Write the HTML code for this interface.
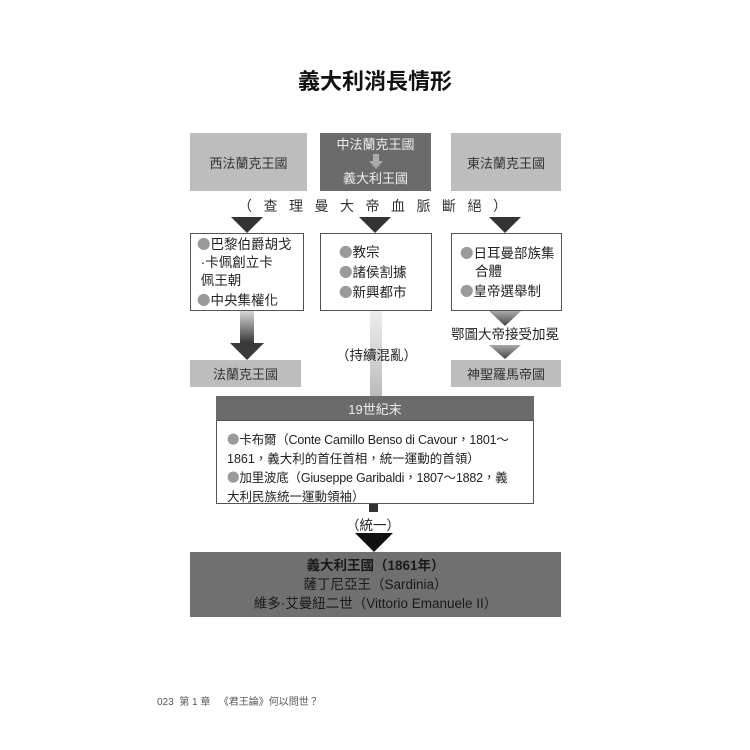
<!DOCTYPE html>
<html><head><meta charset="utf-8"><style>
body{margin:0;width:750px;height:750px;background:#fff;position:relative;overflow:hidden;font-family:"Liberation Sans","Noto Sans CJK TC",sans-serif;color:#222}
.a{position:absolute}
.box{position:absolute;display:flex;align-items:center;justify-content:center;text-align:center;font-size:13px}
.g{background:#bdbdbd;color:#333}
.d{background:#6b6b6b;color:#eee}
.w{background:#fff;border:1px solid #555;box-sizing:border-box;font-size:13.5px;line-height:18px;color:#222}
.dot{color:#9a9a9a;font-family:"Noto Sans CJK TC",sans-serif}
.ln{white-space:nowrap}
</style></head><body>
<div class="a" style="left:0;width:750px;top:64px;text-align:center;font-size:22px;font-weight:bold;color:#111">義大利消長情形</div>

<div class="box g" style="left:190px;top:133px;width:117px;height:58px">西法蘭克王國</div>
<div class="box d" style="left:320px;top:133px;width:111px;height:58px;flex-direction:column;line-height:18px">
<div>中法蘭克王國</div>
<svg width="16" height="16" viewBox="0 0 16 16"><rect x="5" y="0" width="6" height="7" fill="#aaa"/><polygon points="1,7 15,7 8,15" fill="#aaa"/></svg>
<div>義大利王國</div></div>
<div class="box g" style="left:451px;top:133px;width:110px;height:58px">東法蘭克王國</div>

<div class="a" style="left:238px;top:196px;font-size:14px;letter-spacing:11.5px;color:#333;white-space:nowrap">（查理曼大帝血脈斷絕）</div>

<svg class="a" style="left:0;top:0" width="750" height="750">
<defs>
<linearGradient id="gl" x1="0" y1="0" x2="0" y2="1"><stop offset="0" stop-color="#ddd"/><stop offset="1" stop-color="#333"/></linearGradient>
<linearGradient id="gm" x1="0" y1="0" x2="0" y2="1"><stop offset="0" stop-color="#eee"/><stop offset="1" stop-color="#bbb"/></linearGradient>
<linearGradient id="gr" x1="0" y1="0" x2="0" y2="1"><stop offset="0" stop-color="#aaa"/><stop offset="1" stop-color="#444"/></linearGradient>
</defs>
<polygon points="231,217 263,217 247,233" fill="#333"/>
<polygon points="359,217 391,217 375,233" fill="#333"/>
<polygon points="489,217 521,217 505,233" fill="#333"/>
<rect x="240" y="310" width="14" height="34" fill="url(#gl)"/>
<polygon points="230,343 264,343 247,360" fill="#3a3a3a"/>
<rect x="370" y="310" width="12" height="86" fill="url(#gm)"/>
<polygon points="489,311 521,311 505,326" fill="url(#gr)"/>
<polygon points="489,345 521,345 505,359" fill="url(#gr)"/>
<rect x="369" y="503" width="9" height="9" fill="#333"/>
<polygon points="355,533 393,533 374,552" fill="#111"/>
</svg>

<div class="box w" style="left:190px;top:233px;width:114px;height:78px;justify-content:flex-start;text-align:left;padding-left:6px">
<div><span class="dot">●</span>巴黎伯爵胡戈<br>&nbsp;·卡佩創立卡<br>&nbsp;佩王朝<br><span class="dot">●</span>中央集權化</div></div>
<div class="box w" style="left:320px;top:233px;width:112px;height:78px;justify-content:flex-start;text-align:left;padding-left:18px">
<div><span class="dot">●</span>教宗<br><span class="dot">●</span>諸侯割據<br><span class="dot">●</span>新興都市</div></div>
<div class="box w" style="left:451px;top:233px;width:111px;height:78px;justify-content:flex-start;text-align:left;padding-left:8px">
<div><span class="dot">●</span>日耳曼部族集<br>&nbsp;&nbsp;&nbsp;&nbsp;合體<br><span class="dot">●</span>皇帝選舉制</div></div>

<div class="a" style="left:451px;top:327px;font-size:13.5px;line-height:16px;color:#222">鄂圖大帝接受加冕</div>
<div class="a" style="left:336px;top:344px;font-size:13.5px;color:#222">（持續混亂）</div>

<div class="box g" style="left:190px;top:360px;width:111px;height:27px">法蘭克王國</div>
<div class="box g" style="left:451px;top:360px;width:110px;height:27px">神聖羅馬帝國</div>

<div class="box d" style="left:216px;top:396px;width:318px;height:25px;font-size:13px">19世紀末</div>
<div class="a w" style="left:216px;top:420px;width:318px;height:84px;padding:9px 0 0 10px;font-size:12.5px;line-height:18.5px">
<div class="ln" style="letter-spacing:-0.2px"><span class="dot">●</span>卡布爾（Conte Camillo Benso di Cavour，1801～</div>
<div class="ln">1861，義大利的首任首相，統一運動的首領）</div>
<div class="ln" style="letter-spacing:-0.2px"><span class="dot">●</span>加里波底（Giuseppe Garibaldi，1807～1882，義</div>
<div class="ln">大利民族統一運動領袖）</div></div>

<div class="a" style="left:346px;top:514px;font-size:13.5px">（統一）</div>

<div class="box" style="left:190px;top:552px;width:371px;height:65px;background:#707070;color:#1a1a1a;flex-direction:column;line-height:19px;font-size:13.5px">
<div style="font-weight:bold">義大利王國（1861年）</div>
<div>薩丁尼亞王（Sardinia）</div>
<div>維多·艾曼紐二世（Vittorio Emanuele II）</div></div>

<div class="a" style="left:157px;top:693px;font-size:10px;color:#555;white-space:nowrap">023&nbsp;&nbsp;第 1 章&nbsp;&nbsp;&nbsp;《君王論》何以問世？</div>
</body></html>
